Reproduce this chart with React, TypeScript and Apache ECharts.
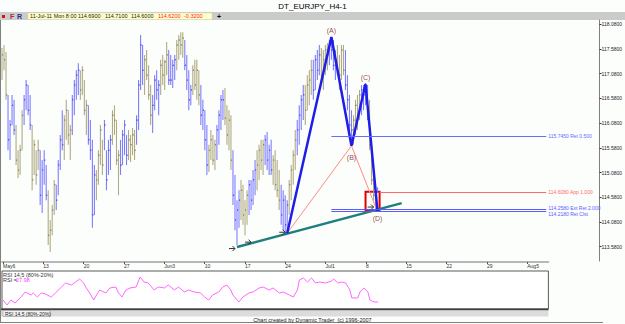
import React, { useEffect, useRef } from 'react';
import * as echarts from 'echarts';

const FONT = "'Liberation Sans', Arial, sans-serif";

const weekLabels = ['May6', '13', '20', '27', 'Jun3', '10', '17', '24', 'Jul1', '8', '15', '22', '29', 'Aug5'];
const priceTicks = [113.58, 114.08, 114.58, 115.08, 115.58, 116.08, 116.58, 117.08, 117.58, 118.08];

const highs = [
  117.53, 117.59, 117.45, 116.58, 116.07, 116.58, 116.48, 115.97, 115.46, 115.57,
  116.27, 116.58, 116.88, 116.78, 116.58, 115.97, 115.67, 115.46, 115.67, 115.46,
  115.26, 115.46, 115.16, 114.65, 114.05, 114.35, 114.86, 114.76, 115.26, 115.77,
  116.27, 116.17, 116.48, 116.27, 115.97, 116.58, 116.88, 117.08, 117.22, 117.08,
  117.16, 116.88, 116.48, 116.37, 116.07, 115.67, 115.16, 115.06, 115.46, 115.97,
  115.67, 116.07, 115.46, 115.67, 115.77, 116.27, 116.37, 116.07, 115.46, 115.67,
  115.87, 116.07, 115.77, 115.87, 115.77, 115.91, 115.87, 116.17, 116.88, 117.79,
  117.59, 117.39, 117.49, 117.18, 116.78, 116.58, 116.98, 117.08, 116.88, 117.29,
  117.39, 117.29, 117.65, 117.49, 117.39, 117.29, 117.39, 117.69, 117.79, 117.85,
  117.85, 117.69, 117.39, 117.08, 116.78, 117.18, 117.29, 117.29, 117.08, 116.78,
  116.48, 116.27, 115.97, 115.57, 115.87, 115.77, 115.67, 115.97, 116.27, 116.58,
  116.68, 116.72, 116.37, 116.27, 116.17, 115.46, 114.96, 114.45, 114.65, 114.86,
  114.76, 114.45, 114.65, 114.86, 114.86, 115.06, 115.26, 115.46, 115.57, 115.67,
  115.67, 115.77, 115.83, 115.57, 115.67, 115.36, 115.46, 115.26, 115.06, 114.76,
  114.65, 114.55, 114.45, 114.86, 115.16, 115.46, 115.87, 116.07, 116.37, 116.58,
  116.78, 116.78, 116.98, 117.08, 117.29, 117.29, 117.39, 117.49, 117.59, 117.53,
  117.49, 117.59, 117.63, 117.69, 117.73, 117.69, 117.49, 117.59, 117.39, 117.59,
  117.59, 117.49, 116.98, 116.58, 116.27, 116.17, 116.48, 116.58, 116.68, 116.78,
  116.78, 116.82, 116.78, 116.48, 115.67, 114.96, 114.76, 114.71,
];
const lows = [
  116.88, 117.08, 116.48, 115.46, 115.26, 115.97, 115.77, 115.16, 114.90, 114.96,
  115.46, 115.97, 116.27, 116.17, 115.87, 114.65, 114.96, 114.76, 115.06, 114.35,
  114.19, 114.76, 114.45, 113.54, 113.40, 113.74, 114.15, 114.25, 114.55, 115.06,
  115.46, 115.26, 115.67, 115.57, 115.26, 115.77, 116.17, 116.48, 116.58, 116.48,
  116.58, 116.17, 115.77, 115.57, 115.26, 113.89, 114.15, 114.45, 114.76, 115.16,
  114.96, 115.46, 114.65, 114.96, 115.06, 115.57, 115.77, 115.16, 114.55, 114.96,
  115.16, 115.36, 115.16, 115.26, 115.22, 115.36, 115.26, 115.57, 115.87, 116.68,
  116.78, 116.58, 116.88, 116.48, 115.97, 115.81, 116.27, 116.48, 116.17, 116.58,
  116.78, 116.68, 116.98, 116.78, 116.78, 116.72, 116.88, 117.08, 117.29, 117.39,
  117.33, 117.08, 116.68, 116.27, 116.37, 116.58, 116.68, 116.48, 116.37, 115.97,
  115.87, 115.46, 114.96, 115.02, 115.26, 115.16, 115.06, 115.26, 115.57, 115.87,
  116.07, 115.97, 115.57, 115.46, 115.06, 114.35, 113.84, 113.54, 113.89, 114.05,
  113.95, 113.74, 113.95, 114.15, 114.25, 114.35, 114.55, 114.65, 114.86, 115.06,
  114.96, 115.16, 115.06, 114.96, 114.96, 114.76, 114.65, 114.51, 114.25, 113.95,
  113.84, 113.78, 113.76, 114.15, 114.45, 114.76, 115.06, 115.36, 115.57, 115.87,
  116.07, 115.97, 116.27, 116.37, 116.58, 116.48, 116.68, 116.88, 116.98, 116.84,
  116.68, 116.98, 117.08, 117.18, 117.29, 117.08, 116.88, 116.98, 116.68, 116.88,
  116.98, 116.68, 116.27, 115.77, 115.61, 115.57, 115.77, 115.87, 116.07, 116.17,
  116.27, 116.37, 116.07, 115.46, 114.76, 114.45, 114.23, 114.60,
];
const closes = [
  117.39, 117.29, 116.58, 115.67, 115.97, 116.37, 115.87, 115.26, 115.06, 115.46,
  116.17, 116.48, 116.78, 116.27, 115.97, 114.86, 115.57, 114.96, 115.46, 114.55,
  115.06, 115.26, 114.55, 113.74, 113.84, 114.25, 114.76, 114.45, 115.16, 115.67,
  115.57, 116.07, 116.27, 115.77, 115.87, 116.48, 116.78, 116.98, 117.08, 116.68,
  117.08, 116.27, 116.37, 115.67, 115.46, 114.15, 114.96, 114.86, 115.36, 115.87,
  115.16, 115.97, 114.86, 115.46, 115.67, 116.17, 116.07, 115.26, 115.36, 115.16,
  115.77, 115.97, 115.36, 115.67, 115.57, 115.77, 115.46, 116.07, 116.78, 117.59,
  117.08, 117.29, 116.98, 116.58, 116.17, 116.37, 116.88, 116.68, 116.78, 117.18,
  116.98, 117.25, 117.39, 116.88, 116.88, 117.18, 117.29, 117.59, 117.69, 117.59,
  117.73, 117.18, 116.88, 116.48, 116.68, 117.08, 116.78, 117.08, 116.58, 116.17,
  116.27, 115.67, 115.16, 115.46, 115.67, 115.26, 115.57, 115.87, 116.17, 116.48,
  116.48, 116.11, 115.77, 116.07, 115.26, 114.55, 114.05, 114.25, 114.45, 114.65,
  114.15, 114.25, 114.55, 114.76, 114.45, 114.86, 115.06, 115.16, 115.46, 115.26,
  115.57, 115.67, 115.26, 115.46, 115.06, 115.26, 114.76, 114.65, 114.45, 114.15,
  114.45, 113.95, 114.35, 114.76, 115.06, 115.36, 115.67, 115.87, 116.17, 116.48,
  116.58, 116.27, 116.78, 116.88, 117.08, 116.68, 117.29, 117.08, 117.39, 116.98,
  117.29, 117.49, 117.39, 117.59, 117.49, 117.18, 117.29, 117.08, 116.98, 117.49,
  117.08, 116.78, 116.48, 115.97, 115.87, 116.07, 116.37, 116.17, 116.58, 116.68,
  116.58, 116.68, 116.17, 115.57, 114.86, 114.55, 114.49, 114.62,
];

const rsiPoints = [
  [0, 31.6], [2, 22.4], [4, 31.6], [6, 26.1], [9, 37.1], [11, 46.3], [14, 40.8], [15, 44.5], [17, 37.1],
  [19, 44.5], [21, 42.6], [24, 37.1], [26, 44.5], [29, 55.5], [31, 62.9], [34, 59.2], [36, 64.7], [38, 70.3],
  [40, 62.9], [41, 55.5], [43, 44.5], [45, 31.6], [47, 44.5], [48, 50.0], [51, 44.5], [53, 53.7], [56, 55.5],
  [57, 46.3], [59, 37.1], [61, 50.0], [63, 53.7], [66, 55.5], [68, 73.9], [70, 64.7], [72, 62.9], [75, 50.0],
  [77, 55.5], [80, 53.7], [82, 59.2], [85, 50.0], [87, 55.5], [90, 46.3], [92, 50.0], [95, 46.3], [98, 44.5],
  [100, 37.1], [102, 31.6], [104, 40.8], [107, 46.3], [109, 55.5], [111, 59.2], [113, 50.0], [114, 40.8],
  [117, 27.9], [119, 37.1], [122, 44.5], [124, 46.3], [127, 53.7], [129, 55.5], [132, 50.0], [134, 53.7],
  [137, 44.5], [139, 46.3], [142, 40.8], [144, 37.1], [146, 50.0], [147, 68.4], [149, 72.1], [151, 64.7],
  [153, 72.1], [155, 62.9], [157, 64.7], [160, 62.9], [163, 66.6], [164, 70.3], [166, 62.9], [168, 64.7],
  [170, 62.9], [172, 50.0], [173, 35.3], [176, 35.3], [177, 46.3], [179, 53.7], [181, 46.3], [182, 31.6],
  [184, 27.9], [186, 27.98],
];

const patternPoints = [[142, 113.78], [164, 117.75], [174, 115.55], [181, 116.8], [187, 114.21]];
const patternLabels = ['', '(A)', '(B)', '(C)', '(D)'];
const patternLabelPos = ['top', 'top', 'bottom', 'top', 'bottom'];
const legLines = [[142, 113.78], [174, 115.55], [187, 114.21]];
const trendLine = [[117, 113.5], [199, 114.39]];
const arrowPoints = [[117, 113.47], [125, 113.6], [142, 113.8], [186, 114.31]];

const fibPrices = [115.745, 114.608, 114.258, 114.218];
const fibTexts = ['115.7450 Ret 0.500', '114.6080 App 1.000', '114.2580 Ext Ret 2.000', '114.2180 Ret Clst'];
const fibStarts = [164, 188, 164, 164];
const fibColors = ['#6a6aff', '#ff6a6a', '#5a5aff', '#5a5aff'];
const fibLabelNudge = [0, 0, -2, 2.5];
const fibEnd = 271;
const boxCorners = [[181, 114.62], [188, 114.25]];
const lastPrice = 114.62;
const lastBar = ['11-Jul-11 Mon 8:00', '114.6900', '114.7100', '114.6000', '114.6200', '-0.3200'];
const rsiLast = '27.98';

const PRICE_SLOTS = 298;
const RSI_SLOTS = 271;
const labelShift = 0.071;

export default function App() {
  const ref = useRef<HTMLDivElement>(null);
  useEffect(() => {
    const chart = echarts.init(ref.current!, undefined, { renderer: 'svg' });
    const priceCats = Array.from({ length: PRICE_SLOTS }, () => '');
    const rsiCats = Array.from({ length: RSI_SLOTS }, (_, i) => (i % 20 === 0 ? weekLabels[i / 20] ?? '' : ''));
    const barData = highs.map((h, i) => [i, h, lows[i], closes[i]]);
    const tickVals = priceTicks.map((v) => v - labelShift);

    const infoX = [30, 78, 105, 131, 158, 184];

    const fibLabel = (k: number) => ({
      show: true, position: 'end', distance: 2, offset: [0, fibLabelNudge[k]], formatter: fibTexts[k],
      color: fibColors[k], fontSize: 5, fontFamily: FONT,
    });

    const option: any = {
      animation: false,
      backgroundColor: '#fcfefc',
      textStyle: { fontFamily: FONT },
      grid: [
        { left: 1, top: 20, width: 602, height: 241, show: false },
        { left: 1, top: 271, width: 547.4, height: 38, show: true, borderColor: '#5a5a5a', borderWidth: 1, backgroundColor: '#ffffff' },
      ],
      xAxis: [
        { type: 'category', gridIndex: 0, data: priceCats, show: false },
        {
          type: 'category', gridIndex: 1, data: rsiCats, position: 'top', offset: 9,
          axisLine: { show: true, lineStyle: { color: '#b8b8b8', width: 2 } },
          axisTick: { show: true, inside: true, length: 2, interval: 19, alignWithLabel: true, lineStyle: { color: '#555' } },
          axisLabel: { inside: true, interval: 19, fontSize: 5, margin: 1, align: 'left', color: '#333', fontFamily: FONT },
          splitLine: { show: false },
        },
      ],
      yAxis: [
        {
          type: 'value', gridIndex: 0, position: 'right', min: 113.218, max: 118.096,
          axisLine: { show: true, lineStyle: { color: '#808080', width: 1 } },
          axisTick: { show: true, length: 2, customValues: tickVals, lineStyle: { color: '#333' } },
          axisLabel: { customValues: tickVals, formatter: (v: number) => (v + labelShift).toFixed(4), fontSize: 5, margin: 2, color: '#222', fontFamily: FONT },
          splitLine: { show: false },
        },
        { type: 'value', gridIndex: 1, min: 15, max: 85, show: false, splitLine: { show: false } },
      ],
      series: [
        {
          type: 'custom', xAxisIndex: 0, yAxisIndex: 0, data: barData, encode: { x: 0, y: [1, 2] }, silent: true, z: 1,
          renderItem: (_p: any, api: any) => {
            const i = api.value(0);
            const pH = api.coord([i, api.value(1)]);
            const pL = api.coord([i, api.value(2)]);
            const pC = api.coord([i, api.value(3)]);
            const blue = Math.floor((i + 5) / 4) % 2 === 0;
            return {
              type: 'group',
              children: [
                { type: 'line', shape: { x1: pH[0], y1: pH[1], x2: pL[0], y2: pL[1] }, style: { stroke: blue ? '#7d7dff' : '#b0ab82', lineWidth: 1.1 } },
                { type: 'line', shape: { x1: pC[0], y1: pC[1], x2: pC[0] + 1.2, y2: pC[1] }, style: { stroke: blue ? '#2626c8' : '#6a6534', lineWidth: 1 } },
              ],
            };
          },
          markLine: {
            silent: true, symbol: ['none', 'none'],
            data: [{ yAxis: lastPrice, lineStyle: { opacity: 0 }, label: { show: true, position: 'end', distance: 0, formatter: lastPrice.toFixed(4), backgroundColor: '#ffff00', color: '#000', fontSize: 5, padding: [1, 1], fontFamily: FONT } }],
          },
        },
        {
          type: 'line', xAxisIndex: 0, yAxisIndex: 0, data: legLines, symbol: 'none', silent: true, z: 3,
          lineStyle: { color: '#ff8a8a', width: 1 },
        },
        {
          type: 'line', xAxisIndex: 0, yAxisIndex: 0, data: trendLine, symbol: 'none', silent: true, z: 3,
          lineStyle: { color: '#1e7f7f', width: 2.5 },
        },
        {
          type: 'line', xAxisIndex: 0, yAxisIndex: 0, data: patternPoints, symbol: 'none', silent: true, z: 4,
          lineStyle: { color: '#1e1ee8', width: 2.5 },
          markLine: {
            silent: true, symbol: ['none', 'none'],
            data: fibPrices.map((p, k) => [
              { coord: [fibStarts[k], p], lineStyle: { color: fibColors[k], width: 1, type: 'solid' }, label: fibLabel(k) },
              { coord: [fibEnd, p], lineStyle: { color: fibColors[k], width: 1, type: 'solid' }, label: fibLabel(k) },
            ]),
          },
          markArea: {
            silent: true,
            data: [[
              { coord: boxCorners[0], itemStyle: { color: 'rgba(0,0,0,0)', borderColor: '#e00000', borderWidth: 2 } },
              { coord: boxCorners[1] },
            ]],
          },
        },
        {
          type: 'scatter', xAxisIndex: 0, yAxisIndex: 0, symbolSize: 0, silent: true, z: 5,
          data: patternPoints.map((pt, k) => ({ value: pt, label: { show: patternLabels[k] !== '', position: patternLabelPos[k], distance: k === 2 ? 8 : 3, formatter: patternLabels[k], color: '#7a1515', fontSize: 7, fontFamily: FONT } })),
        },
        {
          type: 'custom', xAxisIndex: 0, yAxisIndex: 0, silent: true, z: 6,
          data: arrowPoints, encode: { x: 0, y: 1 },
          renderItem: (_p: any, api: any) => {
            const pt = api.coord([api.value(0), api.value(1)]);
            const tipX = pt[0] - 2;
            const y = pt[1];
            return {
              type: 'group',
              children: [
                { type: 'line', shape: { x1: tipX - 6, y1: y, x2: tipX, y2: y }, style: { stroke: '#333', lineWidth: 1 } },
                { type: 'polyline', shape: { points: [[tipX - 2.5, y - 2.5], [tipX, y], [tipX - 2.5, y + 2.5]] }, style: { stroke: '#333', lineWidth: 1, fill: 'none' } },
              ],
            };
          },
        },
        {
          type: 'line', xAxisIndex: 1, yAxisIndex: 1, data: rsiPoints, symbol: 'none', silent: true,
          lineStyle: { color: '#ff66ff', width: 1 },
        },
      ],
      graphic: [
        { type: 'text', x: 312.5, y: 6, style: { text: 'DT_EURJPY_H4-1', fontSize: 8, fill: '#000', align: 'center', verticalAlign: 'middle', fontFamily: FONT } },
        { type: 'rect', shape: { x: 0, y: 12, width: 625, height: 8 }, style: { fill: '#cbcbcb' } },
        { type: 'rect', shape: { x: 2, y: 15, width: 3, height: 3 }, style: { fill: '#e01010' } },
        { type: 'text', x: 10, y: 16.5, style: { text: 'F', fontSize: 7, fontWeight: 'bold', fill: '#a03030', verticalAlign: 'middle', fontFamily: FONT } },
        { type: 'text', x: 17, y: 16.5, style: { text: 'R', fontSize: 7, fontWeight: 'bold', fill: '#303090', verticalAlign: 'middle', fontFamily: FONT } },
        { type: 'rect', shape: { x: 28, y: 13, width: 184, height: 6.5 }, style: { fill: '#ffffcc', stroke: '#d8d8a8', lineWidth: 0.5 } },
        ...lastBar.map((t, k) => ({ type: 'text', x: infoX[k], y: 16.4, style: { text: t, fontSize: 5.5, fill: k >= 4 ? '#ff2020' : '#202020', verticalAlign: 'middle', fontFamily: FONT } })),
        { type: 'text', x: 219, y: 16.4, style: { text: '+', fontSize: 7, fontWeight: 'bold', fill: '#000', align: 'center', verticalAlign: 'middle', fontFamily: FONT } },
        { type: 'line', shape: { x1: 0.5, y1: 20, x2: 0.5, y2: 323 }, style: { stroke: '#808080', lineWidth: 1 } },
        { type: 'line', shape: { x1: 0, y1: 322.5, x2: 603, y2: 322.5 }, style: { stroke: '#808080', lineWidth: 1 } },
        { type: 'line', shape: { x1: 1, y1: 309.5, x2: 548.4, y2: 309.5 }, style: { stroke: '#404040', lineWidth: 2 } },
        { type: 'rect', shape: { x: 1, y: 310.5, width: 547.4, height: 6 }, style: { fill: '#dcdcdc' } },
        { type: 'rect', shape: { x: 3, y: 310.5, width: 47, height: 6 }, style: { fill: '#f2f2f2', stroke: '#808080', lineWidth: 0.5 } },
        { type: 'text', x: 5, y: 313.6, style: { text: 'RSI 14,5 (80%-20%)', fontSize: 5, fill: '#222', verticalAlign: 'middle', fontFamily: FONT } },
        { type: 'text', x: 312.5, y: 320, style: { text: 'Chart created by Dynamic Trader  (c) 1996-2007', fontSize: 5.5, fill: '#222', align: 'center', verticalAlign: 'middle', fontFamily: FONT } },
        { type: 'text', x: 3, y: 274.5, style: { text: 'RSI 14,5 (80%-20%)', fontSize: 5.5, fill: '#333', verticalAlign: 'middle', fontFamily: FONT } },
        { type: 'text', x: 3, y: 280, style: { text: 'RSI =', fontSize: 5.5, fill: '#333', verticalAlign: 'middle', fontFamily: FONT } },
        { type: 'text', x: 16, y: 280, style: { text: rsiLast, fontSize: 5.5, fill: '#ff40ff', verticalAlign: 'middle', fontFamily: FONT } },
      ],
    };
    chart.setOption(option);
    return () => chart.dispose();
  }, []);
  return <div ref={ref} style={{ position: 'fixed', left: 0, top: 0, width: 625, height: 324 }} />;
}
